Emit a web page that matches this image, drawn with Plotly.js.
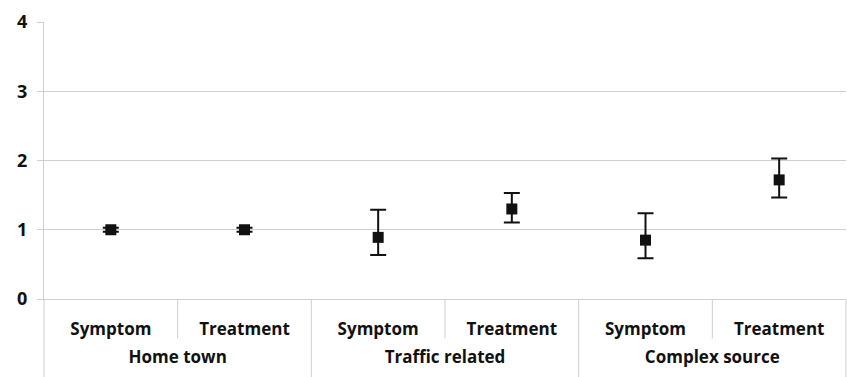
<!DOCTYPE html>
<html>
<head>
<meta charset="utf-8">
<script src="https://cdn.plot.ly/plotly-3.0.1.min.js"></script>
<style>html,body{margin:0;padding:0;background:#fff;}#chart{width:847px;height:377px;}</style>
</head>
<body>
<div id="chart"></div>
<script>
const groups = ['Home town','Home town','Traffic related','Traffic related','Complex source','Complex source'];
const subs = ['Symptom','Treatment','Symptom','Treatment','Symptom','Treatment'];
const values = [1.00, 1.00, 0.89, 1.30, 0.85, 1.72];
const upper = [1.03, 1.03, 1.29, 1.53, 1.24, 2.03];
const lower = [0.97, 0.97, 0.635, 1.105, 0.59, 1.465];
const yTicks = [0, 1, 2, 3, 4];

const plus = upper.map((u, i) => u - values[i]);
const minus = lower.map((l, i) => values[i] - l);
const idx = subs.map((_, i) => i);

// group label positions: centre of each run of equal group names
const groupNames = [], groupPos = [];
groups.forEach((g, i) => {
  if (i === 0 || groups[i-1] !== g) { groupNames.push(g); groupPos.push([i]); }
  else groupPos[groupPos.length-1].push(i);
});
const groupCentres = groupPos.map(a => (a[0] + a[a.length-1]) / 2);

const trace = {
  type: 'scatter',
  mode: 'markers',
  x: idx,
  y: values,
  marker: {symbol: 'square', size: 11, color: '#111'},
  error_y: {type: 'data', symmetric: false, array: plus, arrayminus: minus,
            color: '#111', thickness: 2, width: 8},
  showlegend: false,
  hoverinfo: 'skip'
};
const groupTrace = {type: 'scatter', mode: 'markers', x: [], y: [], xaxis: 'x2', yaxis: 'y', showlegend: false};

const grey = '#cfcfcf';
const n = subs.length;
const shapes = [];
for (let i = 1; i < n; i++) {
  const isGroup = groups[i] !== groups[i-1];
  shapes.push({type: 'line', xref: 'paper', yref: 'paper', x0: i/n, x1: i/n,
    y0: 0, y1: isGroup ? -0.29 : -0.142, line: {color: grey, width: 1}});
}
shapes.push({type: 'line', xref: 'paper', yref: 'paper', x0: 0, x1: 0, y0: 0, y1: -0.29, line: {color: grey, width: 1}});
shapes.push({type: 'line', xref: 'paper', yref: 'paper', x0: 1, x1: 1, y0: 0, y1: -0.29, line: {color: grey, width: 1}});

const lblFont = {size: 17, family: '"Open Sans", sans-serif', weight: 'bold', color: '#111'};

const layout = {
  width: 847, height: 377,
  margin: {l: 44, r: 1, t: 22, b: 78},
  paper_bgcolor: '#fff', plot_bgcolor: '#fff',
  font: {family: '"Open Sans", sans-serif', color: '#111'},
  xaxis: {
    range: [-0.5, n - 0.5],
    tickvals: idx, ticktext: subs,
    showgrid: false, zeroline: false,
    showline: true, linecolor: grey, linewidth: 1,
    ticks: '', tickfont: lblFont,
    ticklabelstandoff: 15
  },
  xaxis2: {
    overlaying: 'x', anchor: 'y', side: 'bottom',
    range: [-0.5, n - 0.5],
    tickvals: groupCentres, ticktext: groupNames,
    showgrid: false, zeroline: false, showline: false,
    ticks: '', tickfont: lblFont,
    ticklabelstandoff: 46
  },
  yaxis: {
    range: [0, 4],
    tickvals: yTicks,
    ticktext: yTicks.map(String),
    showgrid: true, gridcolor: grey, gridwidth: 1,
    showline: true, linecolor: grey, linewidth: 1,
    ticks: 'outside', ticklen: 6, tickcolor: grey,
    zeroline: false,
    tickfont: {size: 18, family: '"Open Sans", sans-serif', weight: 'bold', color: '#111'},
    ticklabelstandoff: 6,
    fixedrange: true
  },
  shapes: shapes
};

Plotly.newPlot('chart', [trace, groupTrace], layout, {staticPlot: true, displayModeBar: false});
</script>
</body>
</html>
